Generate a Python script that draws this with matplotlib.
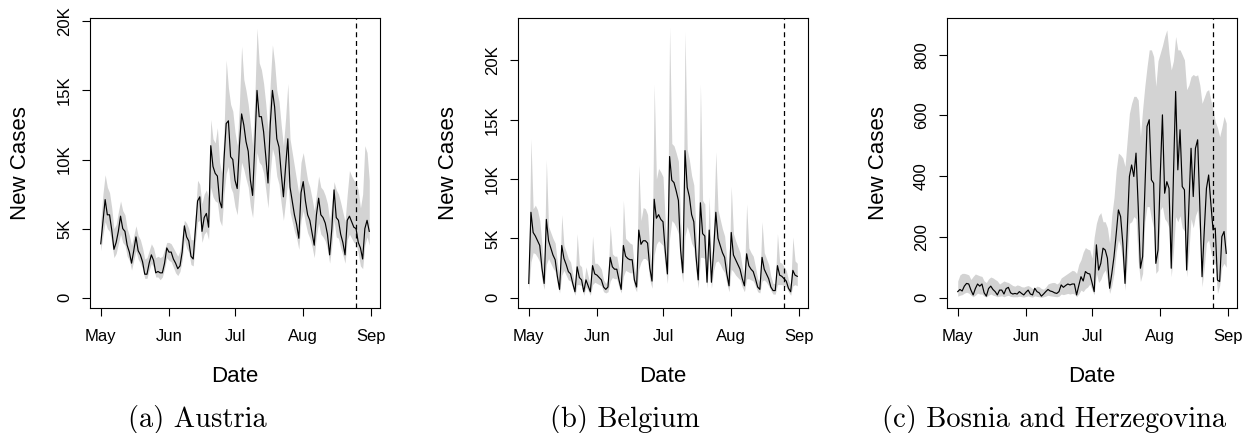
import numpy as np
import pandas as pd
import matplotlib
matplotlib.use('Agg')
import matplotlib.pyplot as plt
import matplotlib.dates as mdates

# daily dates, 1 May - 31 Aug, and the forecast start
dates = pd.date_range('2021-05-01', '2021-08-31', freq='D')
cutoff = pd.Timestamp('2021-08-25')

# Austria (thousands of cases)
aut_mid = [3.9, 5.5, 7.1, 6.0, 6.0, 4.9, 3.5,
           4.0, 4.8, 5.9, 5.0, 4.8, 3.8, 3.3,
           2.5, 3.4, 4.4, 3.4, 3.1, 2.6, 1.7,
           1.7, 2.5, 3.1, 2.7, 1.8, 1.9, 1.8,
           1.8, 2.5, 3.6, 3.3, 3.3, 2.8, 2.5,
           2.1, 2.3, 3.3, 5.2, 4.4, 4.1, 3.0,
           2.8, 4.9, 7.0, 7.3, 4.8, 5.8, 6.1,
           5.1, 11.0, 9.5, 9.0, 8.8, 7.0, 6.5,
           10.0, 12.6, 12.8, 10.2, 10.0, 8.5, 7.9,
           11.0, 13.3, 12.5, 11.3, 10.6, 8.5, 7.4,
           11.0, 15.0, 13.1, 13.1, 12.0, 10.2, 8.3,
           12.5, 15.0, 13.8, 11.5, 10.9, 9.0, 7.3,
           9.5, 11.5, 8.0, 7.0, 6.0, 5.3, 4.3,
           7.6, 8.4, 7.0, 6.0, 5.6, 4.7, 3.8,
           6.0, 7.2, 6.0, 5.8, 5.4, 4.6, 3.1,
           5.0, 7.8, 5.8, 5.6, 4.6, 4.0, 3.1,
           5.6, 5.9, 5.5, 5.1, 5.0, 4.0, 3.6,
           2.8, 5.0, 5.6, 4.8]
aut_hi = [5.5, 7.5, 8.9, 8.0, 7.6, 6.5, 5.0,
          5.3, 6.2, 7.0, 6.3, 6.0, 5.0, 4.5,
          3.8, 4.5, 5.2, 4.5, 4.2, 3.6, 2.8,
          2.9, 3.4, 3.9, 3.6, 2.9, 3.0, 2.9,
          3.0, 3.5, 4.0, 4.0, 3.9, 3.6, 3.3,
          3.0, 3.4, 4.5, 5.6, 5.4, 5.0, 4.2,
          4.2, 6.0, 8.5, 8.2, 6.8, 7.5, 7.8,
          7.2, 12.9, 11.5, 11.2, 12.3, 9.8, 9.0,
          12.0, 17.2, 15.2, 14.0, 13.5, 12.0, 11.0,
          14.0, 18.2, 15.8, 15.0, 14.0, 12.5, 11.0,
          14.5, 19.5, 17.0, 16.5, 15.5, 14.0, 12.0,
          15.5, 18.3, 17.0, 15.0, 14.2, 12.5, 11.0,
          13.0, 15.5, 11.5, 10.5, 9.5, 8.5, 7.5,
          9.8, 10.5, 9.5, 8.5, 8.0, 7.2, 6.3,
          7.5, 8.8, 8.0, 7.8, 7.4, 6.8, 5.6,
          6.8, 8.4, 7.8, 7.5, 6.9, 6.2, 5.5,
          7.5, 9.2, 8.8, 8.5, 8.3, 7.8, 6.5,
          7.5, 11.0, 10.5, 8.5]
aut_lo = [3.4, 4.5, 5.5, 5.0, 4.8, 4.0, 2.9,
          3.2, 3.9, 4.6, 4.0, 3.8, 3.0, 2.7,
          2.0, 2.7, 3.4, 2.8, 2.5, 2.1, 1.4,
          1.4, 2.0, 2.5, 2.2, 1.5, 1.5, 1.3,
          1.5, 2.1, 2.9, 2.7, 2.6, 2.2, 1.8,
          1.6, 1.9, 2.7, 4.2, 3.6, 3.3, 2.4,
          2.3, 4.0, 5.5, 5.6, 4.0, 4.6, 4.8,
          4.2, 8.0, 7.3, 7.0, 6.9, 5.6, 5.2,
          7.5, 9.0, 9.5, 8.0, 7.6, 6.6, 6.0,
          8.0, 9.8, 9.3, 8.6, 8.0, 6.6, 5.8,
          8.0, 10.5, 9.8, 9.6, 9.0, 7.8, 6.5,
          9.0, 10.8, 10.2, 8.8, 8.2, 6.8, 5.6,
          7.0, 8.5, 6.2, 5.5, 4.8, 4.3, 3.5,
          5.6, 6.3, 5.4, 4.7, 4.3, 3.7, 2.9,
          4.5, 5.4, 4.6, 4.4, 4.1, 3.5, 2.5,
          3.8, 5.6, 4.4, 4.3, 3.6, 3.1, 2.5,
          4.2, 4.6, 4.3, 4.0, 3.9, 3.2, 2.3,
          2.1, 3.8, 4.4, 3.8]

# Belgium (thousands of cases)
bel_mid = [1.2, 7.2, 5.5, 5.2, 4.8, 4.4, 2.5,
           1.2, 6.6, 4.8, 4.2, 3.6, 3.2, 1.8,
           0.7, 4.4, 3.3, 2.8, 2.2, 2.0, 1.2,
           0.5, 2.6, 1.7, 1.5, 0.5, 1.5, 1.0,
           0.5, 2.7, 2.0, 1.9, 1.7, 1.5, 0.9,
           0.7, 0.9, 3.4, 2.6, 2.4, 2.4, 1.5,
           0.7, 4.4, 3.5, 3.3, 3.2, 3.2, 1.5,
           0.9, 5.7, 4.5, 4.8, 4.8, 4.6, 2.5,
           1.4, 8.3, 6.7, 7.0, 6.6, 6.4, 4.0,
           2.0, 11.9, 9.9, 9.7, 9.0, 8.2, 4.0,
           2.1, 12.4, 9.3, 8.5, 7.0, 6.4, 3.5,
           1.5, 8.0, 5.4, 5.2, 1.3, 5.7, 1.3,
           4.0, 7.2, 5.0, 4.4, 3.8, 3.4, 2.0,
           1.0, 5.5, 3.6, 3.2, 2.8, 2.4, 1.6,
           1.0, 3.7, 2.7, 2.4, 2.2, 1.6, 0.9,
           0.7, 3.4, 2.4, 2.0, 1.6, 0.9, 0.6,
           0.6, 2.7, 1.9, 1.8, 1.6, 1.4, 0.8,
           0.5, 2.3, 1.9, 1.8]
bel_hi = [2.0, 13.4, 7.5, 7.8, 7.4, 6.5, 4.5,
          2.2, 11.6, 6.0, 5.5, 5.0, 4.6, 3.0,
          1.5, 7.0, 4.4, 3.9, 3.3, 3.0, 2.0,
          1.0, 5.4, 2.8, 2.6, 1.2, 2.6, 1.8,
          1.0, 5.2, 2.9, 2.9, 2.7, 2.4, 1.5,
          1.2, 1.5, 6.1, 3.7, 3.5, 3.5, 2.5,
          1.3, 8.2, 5.0, 4.8, 4.6, 4.5, 2.6,
          1.6, 11.2, 6.5, 7.6, 7.5, 7.0, 4.0,
          2.5, 18.0, 10.0, 10.9, 10.6, 10.2, 6.5,
          3.5, 22.8, 13.0, 12.8, 12.2, 11.5, 6.5,
          3.5, 22.4, 12.5, 11.6, 10.3, 9.5, 5.5,
          2.5, 18.0, 8.2, 7.9, 2.5, 8.5, 2.5,
          6.0, 12.3, 7.4, 6.6, 5.8, 5.2, 3.2,
          1.8, 9.4, 5.4, 4.8, 4.3, 3.8, 2.6,
          1.8, 7.9, 4.2, 3.8, 3.5, 2.6, 1.6,
          1.3, 6.4, 3.8, 3.3, 2.8, 1.8, 1.2,
          1.2, 5.4, 3.0, 2.9, 2.6, 2.3, 1.5,
          1.0, 5.1, 3.1, 2.9]
bel_lo = [0.6, 3.0, 3.8, 3.7, 3.4, 3.0, 1.5,
          0.7, 2.8, 3.3, 2.9, 2.5, 2.2, 1.2,
          0.4, 1.9, 2.3, 1.9, 1.5, 1.4, 0.8,
          0.2, 1.1, 1.1, 1.0, 0.2, 0.9, 0.6,
          0.2, 1.1, 1.3, 1.2, 1.1, 1.0, 0.5,
          0.4, 0.5, 1.4, 1.7, 1.6, 1.6, 0.9,
          0.4, 1.8, 2.3, 2.2, 2.1, 2.1, 0.9,
          0.5, 2.4, 3.0, 3.3, 3.3, 3.1, 1.5,
          0.8, 3.6, 4.5, 4.8, 4.6, 4.4, 2.6,
          1.2, 5.0, 6.5, 6.3, 5.9, 5.4, 2.6,
          1.3, 5.2, 6.0, 5.4, 4.6, 4.2, 2.2,
          0.8, 3.4, 3.4, 3.3, 0.8, 3.6, 0.8,
          2.3, 3.0, 3.1, 2.8, 2.4, 2.1, 1.2,
          0.5, 2.4, 2.2, 1.9, 1.7, 1.5, 0.9,
          0.5, 1.6, 1.6, 1.5, 1.4, 1.0, 0.5,
          0.4, 1.4, 1.5, 1.3, 1.0, 0.6, 0.3,
          0.3, 1.1, 1.1, 1.1, 1.0, 0.9, 0.5,
          0.2, 1.0, 1.1, 1.0]

# Bosnia and Herzegovina (cases)
bih_mid = [20, 27, 22, 38, 47, 45, 25,
           9, 30, 45, 38, 45, 16, 5,
           30, 38, 27, 20, 9, 25, 25,
           12, 30, 34, 16, 12, 14, 12,
           20, 14, 9, 18, 25, 12, 9,
           31, 20, 16, 5, 12, 20, 27,
           22, 20, 16, 14, 20, 42, 34,
           40, 45, 42, 45, 45, 9, 40,
           69, 55, 86, 80,
           78, 50, 20, 174, 91, 113, 163,
           157, 130, 31, 80, 135, 210, 289,
           267, 179, 47, 220, 399, 437, 399,
           476, 300, 97, 135, 350, 564, 586,
           388, 377, 113, 157, 400, 602, 344,
           382, 360, 97, 400, 679, 421, 553,
           366, 355, 91, 300, 492, 333, 492,
           520, 300, 69, 220, 360, 404, 310,
           223, 229, 58, 53, 201, 218, 146]
bih_hi = [55, 75, 80, 80, 78, 75, 60,
          70, 78, 75, 72, 70, 55, 50,
          62, 68, 65, 60, 55, 45, 50,
          55, 52, 50, 45, 40, 38, 42,
          40, 36, 35, 38, 40, 36, 30,
          32, 38, 36, 30, 28, 35, 45,
          48, 50, 50, 45, 50, 65, 70,
          75, 80, 85, 90, 88, 80, 110,
          125, 150, 165, 160,
          157, 130, 200, 245, 270, 280, 250,
          250, 230, 179, 272, 330, 420, 476,
          470, 460, 432, 520, 607, 640, 663,
          663, 651, 530, 620, 696, 760, 816,
          816, 794, 696, 780, 805, 830, 860,
          882, 805, 750, 780, 860, 816, 816,
          800, 783, 685, 700, 728, 735, 730,
          734, 700, 640, 660, 680, 685, 650,
          619, 580, 560, 530, 560, 597, 575]
bih_lo = [5, 8, 10, 15, 18, 15, 8,
          3, 8, 15, 12, 12, 5, 2,
          8, 12, 8, 6, 3, 5, 6,
          3, 6, 8, 4, 3, 3, 3,
          5, 3, 2, 4, 6, 3, 2,
          6, 4, 3, 1, 3, 5, 8,
          6, 5, 4, 3, 5, 12, 10,
          12, 14, 12, 14, 12, 3, 12,
          25, 20, 30, 35,
          45, 25, 10, 80, 50, 60, 80,
          91, 60, 14, 40, 80, 150, 190,
          170, 110, 25, 120, 245, 250, 267,
          260, 120, 53, 80, 250, 300, 300,
          260, 230, 80, 90, 289, 300, 260,
          250, 230, 69, 150, 267, 250, 270,
          230, 220, 69, 150, 260, 230, 270,
          289, 200, 36, 100, 180, 190, 150,
          120, 110, 14, 40, 100, 113, 100]

panels = [
    dict(mid=np.array(aut_mid) * 1000, hi=np.array(aut_hi) * 1000, lo=np.array(aut_lo) * 1000,
         ylim=(-745, 20240), yticks=[0, 5000, 10000, 15000, 20000],
         ylabels=['0', '5K', '10K', '15K', '20K'], caption='(a) Austria', left=90),
    dict(mid=np.array(bel_mid) * 1000, hi=np.array(bel_hi) * 1000, lo=np.array(bel_lo) * 1000,
         ylim=(-870, 23580), yticks=[0, 5000, 10000, 15000, 20000],
         ylabels=['0', '5K', '10K', '15K', '20K'], caption='(b) Belgium', left=518),
    dict(mid=np.array(bih_mid), hi=np.array(bih_hi), lo=np.array(bih_lo),
         ylim=(-34, 921), yticks=[0, 200, 400, 600, 800],
         ylabels=['0', '200', '400', '600', '800'],
         caption='(c) Bosnia and Herzegovina', left=947),
]

W, H = 1250, 433
fig = plt.figure(figsize=(12.5, 4.33), dpi=100)
pad_days = pd.Timedelta(days=122 * 0.04)

for p in panels:
    ax = fig.add_axes([p['left'] / W, (H - 308) / H, 290 / W, 290 / H])
    ax.fill_between(dates, p['lo'], p['hi'], color='#d3d3d3', linewidth=0)
    ax.plot(dates, p['mid'], color='black', linewidth=0.85)
    ax.axvline(cutoff, color='black', linestyle=(0, (4, 3)), linewidth=0.9)

    ax.set_xlim(dates[0] - pad_days, dates[-1] + pad_days)
    ax.set_ylim(*p['ylim'])
    ax.xaxis.set_major_locator(mdates.MonthLocator())
    ax.xaxis.set_major_formatter(mdates.DateFormatter('%b'))
    ax.set_yticks(p['yticks'])
    ax.set_yticklabels(p['ylabels'], rotation=90, va='center')
    ax.tick_params(direction='out', length=6, width=0.8, pad=7, labelsize=12)
    ax.tick_params(axis='x', pad=9)
    for tl in ax.get_xticklabels() + ax.get_yticklabels():
        tl.set_family('Liberation Sans')
    for s in ax.spines.values():
        s.set_linewidth(0.8)

    ax.set_xlabel('Date', fontsize=16, family='Liberation Sans')
    ax.set_ylabel('New Cases', fontsize=16, family='Liberation Sans')
    ax.xaxis.label.set_va('center')
    ax.yaxis.label.set_va('center')
    ax.xaxis.set_label_coords(0.5, -(376 - 308) / 290)
    ax.yaxis.set_label_coords(-69 / 290, 0.5)

    fig.text((p['left'] + 145 - 38) / W, (H - 419) / H, p['caption'],
             family='cmr10', fontsize=20.5, ha='center', va='center')

fig.savefig('out.png', dpi=100)
